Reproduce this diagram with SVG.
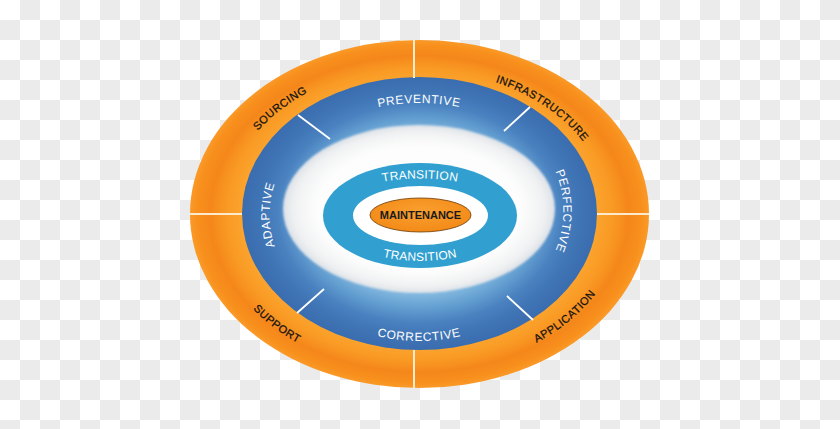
<svg xmlns="http://www.w3.org/2000/svg" width="840" height="429" viewBox="0 0 840 429">
<defs>
<pattern id="checker" x="0" y="0" width="40" height="40" patternUnits="userSpaceOnUse">
<rect x="0" y="0" width="40" height="40" fill="#ffffff"/>
<rect x="20" y="0" width="20" height="20" fill="#ebebeb"/>
<rect x="0" y="20" width="20" height="20" fill="#ebebeb"/>
</pattern>
<radialGradient id="orangeGrad" cx="0.5" cy="0.5" r="0.5">
<stop offset="0.77" stop-color="#fba42e"/>
<stop offset="0.84" stop-color="#f99a24"/>
<stop offset="0.91" stop-color="#f5871a"/>
<stop offset="0.97" stop-color="#f8901d"/>
<stop offset="1" stop-color="#fa9a28"/>
</radialGradient>
<radialGradient id="blueGrad" cx="0.5" cy="0.5" r="0.5">
<stop offset="0.6" stop-color="#7fb6de"/>
<stop offset="0.7" stop-color="#629dd0"/>
<stop offset="0.8" stop-color="#4a82c0"/>
<stop offset="0.9" stop-color="#3f74b5"/>
<stop offset="1" stop-color="#3a6daf"/>
</radialGradient>
<radialGradient id="whiteGrad" cx="0.5" cy="0.5" r="0.5">
<stop offset="0" stop-color="#ffffff"/>
<stop offset="0.75" stop-color="#fdfdfd"/>
<stop offset="0.92" stop-color="#f0f1f2"/>
<stop offset="1" stop-color="#dde2e8"/>
</radialGradient>
<radialGradient id="centerGrad" cx="0.5" cy="0.4" r="0.6">
<stop offset="0" stop-color="#f9a030"/>
<stop offset="1" stop-color="#f38a17"/>
</radialGradient>
<filter id="soft" x="-10%" y="-10%" width="120%" height="120%">
<feGaussianBlur stdDeviation="1.2"/>
</filter>
<path id="pSourcing" d="M229,180.7 A195,148 0 0 1 362,72.5"/>
<path id="pInfra" d="M461.8,73.7 A190,144 0 0 1 600.7,171.9"/>
<path id="pSupport" d="M218,251.9 A207,159 0 0 0 361.2,366.7"/>
<path id="pApplication" d="M485.1,362.6 A205,157 0 0 0 620.1,244.5"/>
<path id="pPreventive" d="M289.1,158.25 A150,110.5 0 0 1 548.9,158.25"/>
<path id="pCorrective" d="M289.1,277.25 A150,127.5 0 0 0 548.9,277.25"/>
<path id="pAdaptive" d="M344.25,318.9 A149.5,120 0 0 1 344.25,111.1"/>
<path id="pPerfective" d="M491.25,107.1 A144.5,120 0 0 1 491.25,314.9"/>
<path id="pTransTop" d="M335.4,202.5 A90,36.5 0 0 1 504.6,202.5"/>
<path id="pTransBot" d="M335.4,230.7 A90,46 0 0 0 504.6,230.7"/>
</defs>
<style>
.ol { font-family: "Liberation Sans", Arial, sans-serif; font-size: 11px; fill: #111111; letter-spacing: 0.5px; stroke: #111111; stroke-width: 0.25px; }
.bl { font-family: "Liberation Sans", Arial, sans-serif; font-size: 12px; fill: #ffffff; letter-spacing: 0.6px; }
.tl { font-family: "Liberation Sans", Arial, sans-serif; font-size: 12px; fill: #ffffff; letter-spacing: 0.2px; }
.div { stroke: #fde9cc; stroke-width: 2; }
.diag { stroke: #ffffff; stroke-width: 1.8; }
</style>
<rect x="0" y="0" width="840" height="429" fill="url(#checker)"/>

<g id="outer-ring">
<ellipse cx="419.5" cy="214" rx="229.5" ry="174" fill="url(#orangeGrad)"/>
</g>
<g id="blue-ring">
<ellipse cx="419.5" cy="213.5" rx="177.5" ry="136.5" fill="url(#blueGrad)"/>
<ellipse cx="419" cy="209" rx="136" ry="84" fill="url(#whiteGrad)" filter="url(#soft)"/>
</g>

<g id="connectors">
<line class="div" x1="414" y1="40" x2="414" y2="78"/>
<line class="div" x1="414" y1="350" x2="414" y2="388"/>
<line class="div" x1="190" y1="214" x2="242" y2="214"/>
<line class="div" x1="597" y1="214" x2="649" y2="214"/>
<line class="diag" x1="298" y1="115" x2="330" y2="139"/>
<line class="diag" x1="530" y1="107" x2="504" y2="131"/>
<line class="diag" x1="297" y1="313" x2="324" y2="289"/>
<line class="diag" x1="533" y1="320" x2="507" y2="296"/>
</g>

<g id="teal-ring">
<ellipse cx="420" cy="215.5" rx="97" ry="52.5" fill="#31a0d0"/>
<ellipse cx="420.5" cy="215.5" rx="67.5" ry="29.5" fill="#ffffff"/>
<text class="tl" text-anchor="middle"><textPath href="#pTransTop" startOffset="50%">TRANSITION</textPath></text>
<text class="tl" text-anchor="middle"><textPath href="#pTransBot" startOffset="50%">TRANSITION</textPath></text>
</g>

<g id="center">
<ellipse cx="420.5" cy="215" rx="50.5" ry="17" fill="url(#centerGrad)" stroke="#6b3a05" stroke-width="0.8"/>
<text x="420.5" y="218.5" text-anchor="middle" font-family="Liberation Sans, Arial, sans-serif" font-size="11" font-weight="bold" fill="#1a1a1a">MAINTENANCE</text>
</g>

<g id="label-preventive"><text class="bl" text-anchor="middle"><textPath href="#pPreventive" startOffset="50%">PREVENTIVE</textPath></text></g>
<g id="label-corrective"><text class="bl" text-anchor="middle"><textPath href="#pCorrective" startOffset="50%">CORRECTIVE</textPath></text></g>
<g id="label-adaptive"><text class="bl" text-anchor="middle"><textPath href="#pAdaptive" startOffset="50%">ADAPTIVE</textPath></text></g>
<g id="label-perfective"><text class="bl" text-anchor="middle"><textPath href="#pPerfective" startOffset="50%">PERFECTIVE</textPath></text></g>

<g id="label-sourcing"><text class="ol" text-anchor="middle"><textPath href="#pSourcing" startOffset="50%">SOURCING</textPath></text></g>
<g id="label-infrastructure"><text class="ol" text-anchor="middle"><textPath href="#pInfra" startOffset="50%">INFRASTRUCTURE</textPath></text></g>
<g id="label-support"><text class="ol" text-anchor="middle"><textPath href="#pSupport" startOffset="50%">SUPPORT</textPath></text></g>
<g id="label-application"><text class="ol" text-anchor="middle"><textPath href="#pApplication" startOffset="50%">APPLICATION</textPath></text></g>
</svg>
